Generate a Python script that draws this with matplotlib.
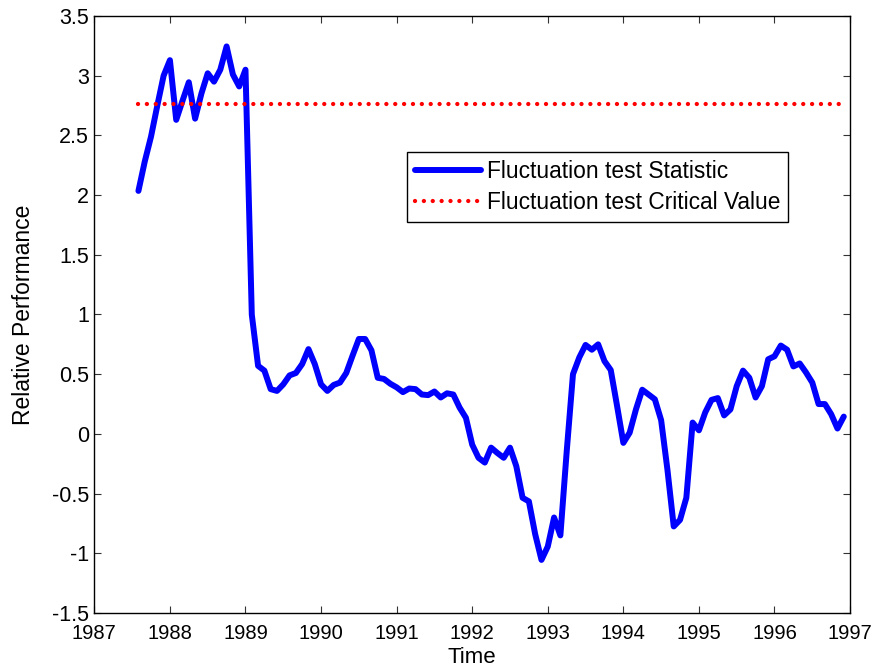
import numpy as np
import matplotlib
matplotlib.use('Agg')
import matplotlib.pyplot as plt

plt.rcParams['font.family'] = ['Liberation Sans', 'DejaVu Sans']

# %% data: monthly fluctuation test statistic, Aug 1987 - Dec 1996

START_YEAR = 1987
START_MONTH = 8

stat_values = [
    2.035, 2.28, 2.49, 2.75, 3.00, 3.13, 2.63, 2.79, 2.945, 2.64,
    2.85, 3.02, 2.95, 3.05, 3.245, 3.01, 2.91, 3.05, 1.00, 0.57,
    0.53, 0.375, 0.36, 0.415, 0.49, 0.51, 0.585, 0.71, 0.585, 0.415,
    0.36, 0.41, 0.43, 0.51, 0.655, 0.795, 0.795, 0.70, 0.47, 0.46,
    0.42, 0.39, 0.35, 0.38, 0.375, 0.33, 0.325, 0.355, 0.305, 0.34,
    0.33, 0.22, 0.135, -0.09, -0.20, -0.24, -0.115, -0.16, -0.20, -0.115,
    -0.27, -0.535, -0.565, -0.84, -1.055, -0.943, -0.70, -0.85, -0.15, 0.50,
    0.64, 0.745, 0.705, 0.75, 0.61, 0.535, 0.235, -0.075, 0.01, 0.205,
    0.37, 0.33, 0.29, 0.115, -0.30, -0.775, -0.72, -0.535, 0.095, 0.03,
    0.18, 0.285, 0.30, 0.155, 0.205, 0.40, 0.53, 0.47, 0.305, 0.40,
    0.625, 0.65, 0.74, 0.705, 0.565, 0.59, 0.515, 0.43, 0.25, 0.25,
    0.165, 0.045, 0.145,
]
critical_value = 2.765

x_ticks = list(range(1987, 1998))
y_ticks = [-1.5, -1, -0.5, 0, 0.5, 1, 1.5, 2, 2.5, 3, 3.5]
y_tick_labels = ['-1.5', '-1', '-0.5', '0', '0.5', '1', '1.5', '2', '2.5', '3', '3.5']

# time axis in fractional years (month m of year y -> y + (m-1)/12)
time = START_YEAR + (START_MONTH - 1) / 12 + np.arange(len(stat_values)) / 12

# %% plot

fig = plt.figure(figsize=(8.76, 6.71), dpi=100)
ax = fig.add_axes([0.1077, 0.0864, 0.8627, 0.8898])

ax.plot(time, stat_values, color='#0000ff', lw=4.3, solid_joinstyle='round',
        solid_capstyle='round', label='Fluctuation test Statistic')
ax.plot([time[0], time[-1] - 0.04], [critical_value, critical_value], color='#ff0000', lw=3.1,
        linestyle=(0, (0.01, 2.05)), dash_capstyle='round',
        label='Fluctuation test Critical Value')

ax.set_xlim(1987, 1997)
ax.set_ylim(-1.5, 3.5)
ax.set_xticks(x_ticks)
ax.set_yticks(y_ticks)
ax.set_yticklabels(y_tick_labels)

ax.tick_params(direction='in', length=5, width=0.8, color='#333333', top=True, right=True)
ax.tick_params(axis='x', labelsize=14.5, pad=8)
ax.tick_params(axis='y', labelsize=15.5, pad=4)
for spine in ax.spines.values():
    spine.set_linewidth(1.0)

ax.set_xlabel('Time', fontsize=16, labelpad=3)
ax.set_ylabel('Relative Performance', fontsize=16.5, labelpad=12)

leg = ax.legend(loc='upper left', bbox_to_anchor=(0.414, 0.772), borderaxespad=0,
                fancybox=False, edgecolor='black', framealpha=1, fontsize=16.4,
                handlelength=2.9, handletextpad=0.25, borderpad=0.35, labelspacing=0.35,
                handleheight=0.7)
leg.get_frame().set_linewidth(1.0)

fig.savefig('out.png', dpi=100)
